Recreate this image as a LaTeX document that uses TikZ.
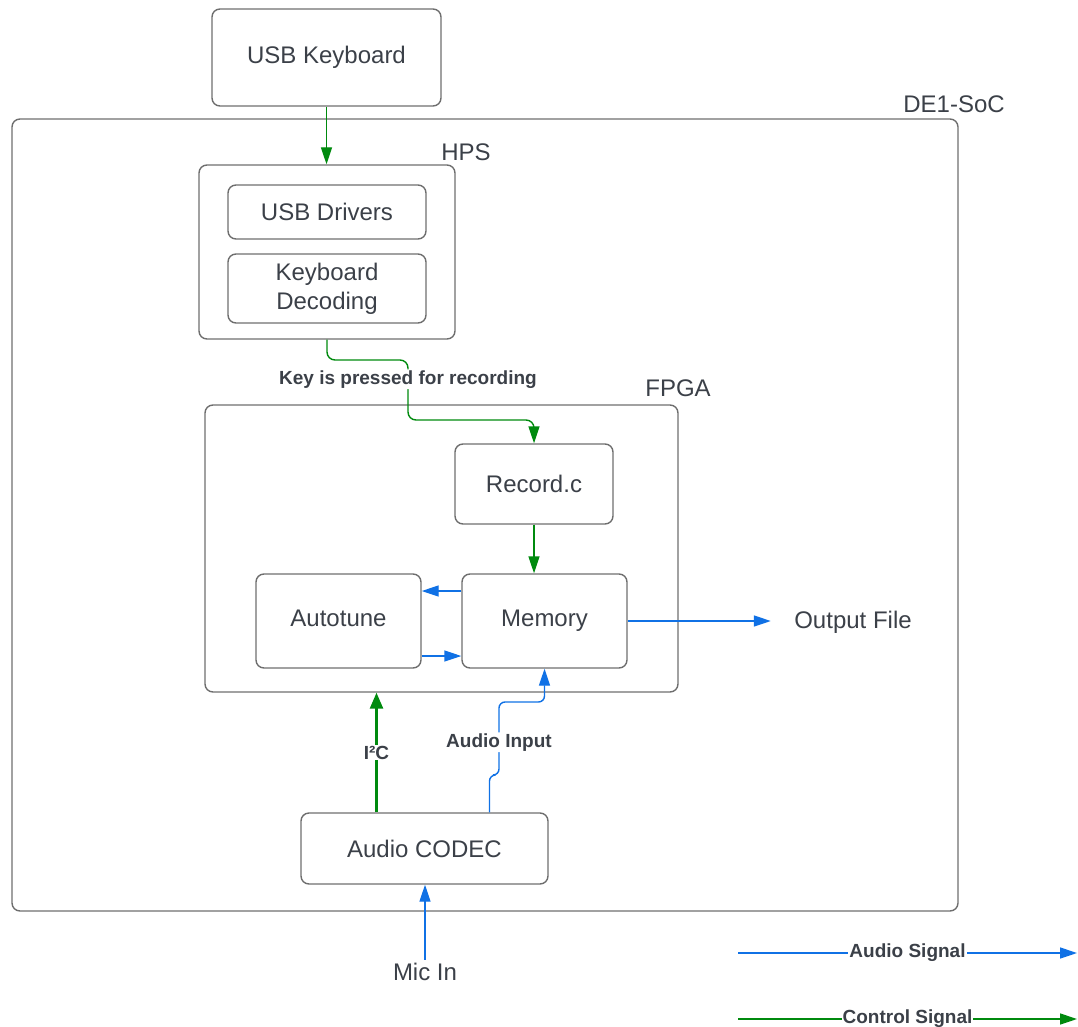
\documentclass[tikz,border=0pt]{standalone}
\usepackage{fontspec}
\setmainfont{Liberation Sans}
\usepackage{tikz}
\usetikzlibrary{arrows.meta}
\definecolor{boxgray}{HTML}{6E6E6E}
\definecolor{txtgray}{HTML}{3B4048}
\definecolor{audioblue}{HTML}{1071E5}
\definecolor{ctrlgreen}{HTML}{008A0E}

\begin{document}
\begin{tikzpicture}[x=1pt, y=-1pt,
	every node/.style={text=txtgray, font=\fontsize{24}{29}\selectfont},
	blk/.style={draw=boxgray, line width=1.4pt, rounded corners=8pt, align=center},
	audio/.style={audioblue, line width=1.4pt, -{Triangle[length=17pt, width=11pt]}},
	ctrl/.style={ctrlgreen, line width=1.4pt, -{Triangle[length=17pt, width=11pt]}},
	lbl/.style={fill=white, inner sep=1pt, font=\bfseries\fontsize{19}{22}\selectfont}]
	\useasboundingbox (0,0) rectangle (1078,1027);
	% board, HPS and FPGA
	\node[blk, minimum width=946pt, minimum height=792pt] (de1) at (485,515) {};
	\node (de1name) at (954,104) {DE1-SoC};
	\node[blk, minimum width=256pt, minimum height=174pt] (hps) at (327,252) {};
	\node (hpsname) at (466,152) {HPS};
	\node[blk, minimum width=473pt, minimum height=287pt] (fpga) at (441.5,548.5) {};
	\node (fpganame) at (678,388) {FPGA};
	% blocks
	\node[blk, minimum width=229pt, minimum height=97pt] (kbd) at (326.5,57.5) {USB Keyboard};
	\node[blk, minimum width=198pt, minimum height=54pt] (drv) at (327,212) {USB Drivers};
	\node[blk, minimum width=198pt, minimum height=69pt] (dec) at (327,288.5) {Keyboard\\Decoding};
	\node[blk, minimum width=158pt, minimum height=80pt] (rec) at (534,484) {Record.c};
	\node[blk, minimum width=165pt, minimum height=94pt, text depth=6pt] (auto) at (338.5,621) {Autotune};
	\node[blk, minimum width=165pt, minimum height=94pt] (mem) at (544.5,621) {Memory};
	\node[blk, minimum width=247pt, minimum height=71pt] (codec) at (424.5,848.5) {Audio CODEC};
	\node (out) at (853,622) {Output File};
	\node (mic) at (425,972) {Mic In};
	% control signals
	\draw[ctrl] (kbd.south) -- (kbd.south |- hps.north);
	\draw[ctrl, rounded corners=8pt] (hps.south) |- (408,360) -- node[lbl, pos=0.32] {Key is pressed for recording} (408,420) -| (rec.north);
	\draw[ctrl] (rec.south) -- (rec.south |- mem.north);
	\draw[ctrl, line width=2.6pt, -{Triangle[length=16pt, width=13pt]}] ([xshift=-48pt]codec.north) -- node[lbl] {I²C} ([xshift=-48pt]codec.north |- fpga.south);
	% audio signals
	\draw[audio] ([yshift=30pt]mem.west) -- ([yshift=30pt]auto.east);
	\draw[audio] ([yshift=-35pt]auto.east) -- ([yshift=-35pt]mem.west);
	\draw[audio, shorten >=20pt] (mem.east) -- (mem.east -| out.west);
	\draw[audio, rounded corners=6pt] ([xshift=65pt]codec.north) |- (499,775) -- node[lbl, pos=0.45] {Audio Input} (499,702) -| (mem.south);
	\draw[audio] (mic.north) -- (mic.north |- codec.south);
	% legend
	\coordinate (aud0) at (738,953);
	\coordinate (aud1) at (1077,953);
	\coordinate (ctl0) at (738,1019);
	\coordinate (ctl1) at (1077,1019);
	\draw[audio] (aud0) -- node[lbl] {Audio Signal} (aud1);
	\draw[ctrl] (ctl0) -- node[lbl] {Control Signal} (ctl1);
\end{tikzpicture}
\end{document}
